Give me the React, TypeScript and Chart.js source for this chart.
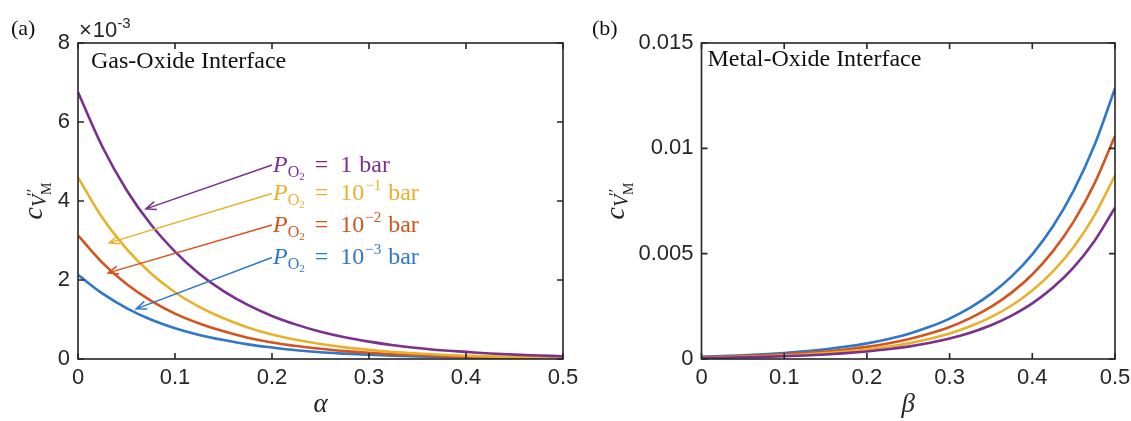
import React, { useEffect, useRef } from 'react';
import { Chart, registerables } from 'chart.js';

Chart.register(...registerables);

// ---------- data ----------
// Panel (a): gas-oxide interface, c values in units of 1e-3
const alphaValues = [0, 0.025, 0.05, 0.075, 0.1, 0.125, 0.15, 0.175, 0.2, 0.225, 0.25, 0.275, 0.3, 0.325, 0.35, 0.375, 0.4, 0.425, 0.45, 0.475, 0.5];
const gasP1 = [6.75, 5.38, 4.28, 3.41, 2.72, 2.16, 1.72, 1.37, 1.09, 0.87, 0.69, 0.55, 0.44, 0.35, 0.28, 0.22, 0.18, 0.14, 0.11, 0.09, 0.07];
const gasP01 = [4.6, 3.58, 2.79, 2.17, 1.69, 1.32, 1.03, 0.8, 0.62, 0.485, 0.38, 0.294, 0.23, 0.178, 0.14, 0.108, 0.084, 0.066, 0.051, 0.04, 0.031];
const gasP001 = [3.13, 2.44, 1.9, 1.48, 1.15, 0.9, 0.7, 0.54, 0.42, 0.33, 0.26, 0.2, 0.16, 0.12, 0.095, 0.074, 0.057, 0.045, 0.035, 0.027, 0.021];
const gasP0001 = [2.13, 1.66, 1.29, 1.0, 0.78, 0.61, 0.48, 0.37, 0.29, 0.22, 0.17, 0.136, 0.106, 0.083, 0.064, 0.05, 0.039, 0.03, 0.024, 0.018, 0.014];

// Panel (b): metal-oxide interface
const betaValues = [0, 0.025, 0.05, 0.075, 0.1, 0.125, 0.15, 0.175, 0.2, 0.225, 0.25, 0.275, 0.3, 0.325, 0.35, 0.375, 0.4, 0.425, 0.45, 0.475, 0.5];
const metalP1 = [0.0000484, 0.0000621, 0.0000798, 0.000102, 0.000132, 0.000169, 0.000217, 0.000278, 0.000357, 0.000459, 0.000589, 0.000757, 0.000972, 0.001248, 0.0016, 0.00206, 0.00264, 0.00339, 0.00435, 0.00559, 0.00718];
const metalP01 = [0.0000632, 0.0000809, 0.000103, 0.000132, 0.000169, 0.000217, 0.000277, 0.000355, 0.000454, 0.00058, 0.000742, 0.00095, 0.00121, 0.001554, 0.00199, 0.00254, 0.00325, 0.00416, 0.00532, 0.00681, 0.00871];
const metalP001 = [0.0000829, 0.000106, 0.000135, 0.000172, 0.000219, 0.000279, 0.000355, 0.000452, 0.000577, 0.000735, 0.000937, 0.001195, 0.00152, 0.00194, 0.00247, 0.00315, 0.00401, 0.00512, 0.00652, 0.00831, 0.01059];
const metalP0001 = [0.000111, 0.000141, 0.000179, 0.000226, 0.000287, 0.000364, 0.000462, 0.000586, 0.000743, 0.000942, 0.00119, 0.001515, 0.00192, 0.00244, 0.00309, 0.00392, 0.00497, 0.0063, 0.00799, 0.01013, 0.01284];

const pressureExponents = ['', '\u22121', '\u22122', '\u22123'];
const xTickValues = [0, 0.1, 0.2, 0.3, 0.4, 0.5];
const yTicksA = [0, 2, 4, 6, 8];
const yTicksB = [0, 0.005, 0.01, 0.015];

// annotation anchors (data coordinates of panel a)
const labelAnchorX = 0.2;
const labelAnchorY = [4.91, 4.19, 3.39, 2.57];
const arrowTips = [
  [0.07, 3.8],
  [0.032, 2.94],
  [0.031, 2.18],
  [0.06, 1.27],
];

// ---------- styles ----------
const seriesColors = ['#7B2F8F', '#E8B12B', '#D4541F', '#2F77C8'];
const SERIF = '"Liberation Serif", "Times New Roman", serif';
const SANS = '"Liberation Sans", Arial, Helvetica, sans-serif';
const AXIS = '#262626';

type Run = { t?: string; font?: string; dy?: number; gap?: number };

function drawRuns(ctx: CanvasRenderingContext2D, x: number, y: number, runs: Run[]) {
  let cx = x;
  for (const r of runs) {
    if (r.gap) cx += r.gap;
    if (r.t) {
      ctx.font = r.font!;
      ctx.fillText(r.t, cx, y + (r.dy || 0));
      cx += ctx.measureText(r.t).width;
    }
  }
  return cx;
}

function drawFrame(chart: any) {
  const { ctx, chartArea } = chart;
  const { left, right, top, bottom } = chartArea;
  const x = chart.scales.x;
  const y = chart.scales.y;
  ctx.save();
  ctx.strokeStyle = AXIS;
  ctx.lineWidth = 1.6;
  ctx.beginPath();
  const tl = 6;
  for (const t of x.ticks) {
    const px = x.getPixelForValue(t.value);
    ctx.moveTo(px, bottom);
    ctx.lineTo(px, bottom - tl);
    ctx.moveTo(px, top);
    ctx.lineTo(px, top + tl);
  }
  for (const t of y.ticks) {
    const py = y.getPixelForValue(t.value);
    ctx.moveTo(left, py);
    ctx.lineTo(left + tl, py);
    ctx.moveTo(right, py);
    ctx.lineTo(right - tl, py);
  }
  ctx.stroke();
  ctx.strokeRect(left, top, right - left, bottom - top);
  ctx.restore();
}

function drawYTitle(ctx: CanvasRenderingContext2D, cx: number, cy: number) {
  ctx.save();
  ctx.translate(cx, cy);
  ctx.rotate(-Math.PI / 2);
  ctx.fillStyle = AXIS;
  ctx.textBaseline = 'alphabetic';
  const cFont = `italic 28px ${SERIF}`;
  const vFont = `italic 20px ${SERIF}`;
  const pFont = `17px ${SERIF}`;
  const mFont = `14px ${SERIF}`;
  const primes = '\u2032\u2032';
  ctx.font = cFont;
  const wc = ctx.measureText('c').width;
  ctx.font = vFont;
  const wv = ctx.measureText('V').width;
  ctx.font = pFont;
  const wp = ctx.measureText(primes).width;
  ctx.font = mFont;
  const wm = ctx.measureText('M').width;
  const total = wc + wv + Math.max(wp, wm);
  let x0 = -total / 2;
  const base = 4;
  ctx.font = cFont;
  ctx.fillText('c', x0, base);
  x0 += wc;
  ctx.font = vFont;
  ctx.fillText('V', x0, base + 4);
  x0 += wv;
  ctx.font = pFont;
  ctx.fillText(primes, x0 - 1, base - 4);
  ctx.font = mFont;
  ctx.fillText('M', x0, base + 9);
  ctx.restore();
}

function drawXTitle(chart: any, symbol: string) {
  const { ctx, chartArea } = chart;
  ctx.save();
  ctx.fillStyle = AXIS;
  ctx.font = `italic 27px ${SERIF}`;
  ctx.textAlign = 'center';
  ctx.textBaseline = 'middle';
  ctx.fillText(symbol, (chartArea.left + chartArea.right) / 2, chartArea.bottom + 46);
  ctx.restore();
}

const panelAPlugin = {
  id: 'panelA',
  afterDraw(chart: any) {
    const { ctx, chartArea } = chart;
    const x = chart.scales.x;
    const y = chart.scales.y;
    drawFrame(chart);
    ctx.save();
    ctx.textBaseline = 'alphabetic';
    ctx.fillStyle = '#111';
    ctx.font = `22px ${SERIF}`;
    ctx.fillText('(a)', 11, 35);
    ctx.fillStyle = AXIS;
    drawRuns(ctx, chartArea.left + 1, chartArea.top - 6, [
      { t: '\u00d7', font: `22px ${SANS}` },
      { t: '10', font: `22px ${SANS}`, gap: 1 },
      { t: '-3', font: `15px ${SANS}`, dy: -9 },
    ]);
    ctx.fillStyle = '#111';
    ctx.font = `24px ${SERIF}`;
    ctx.fillText('Gas-Oxide Interface', chartArea.left + 13, chartArea.top + 25);
    for (let i = 0; i < 4; i++) {
      const tx = x.getPixelForValue(labelAnchorX);
      const ty = y.getPixelForValue(labelAnchorY[i]);
      const hx = x.getPixelForValue(arrowTips[i][0]);
      const hy = y.getPixelForValue(arrowTips[i][1]);
      ctx.strokeStyle = seriesColors[i];
      ctx.fillStyle = seriesColors[i];
      ctx.lineWidth = 1.5;
      ctx.beginPath();
      ctx.moveTo(tx, ty);
      ctx.lineTo(hx, hy);
      const ang = Math.atan2(ty - hy, tx - hx);
      const hl = 11;
      const spread = 0.38;
      ctx.moveTo(hx + hl * Math.cos(ang + spread), hy + hl * Math.sin(ang + spread));
      ctx.lineTo(hx, hy);
      ctx.lineTo(hx + hl * Math.cos(ang - spread), hy + hl * Math.sin(ang - spread));
      ctx.stroke();
      const runs: Run[] = [
        { t: 'P', font: `italic 24px ${SERIF}` },
        { t: 'O', font: `16px ${SERIF}`, dy: 5 },
        { t: '2', font: `11px ${SERIF}`, dy: 8 },
        { t: '=', font: `24px ${SERIF}`, gap: 10 },
      ];
      if (pressureExponents[i] === '') {
        runs.push({ t: '1', font: `24px ${SERIF}`, gap: 12 });
      } else {
        runs.push({ t: '10', font: `24px ${SERIF}`, gap: 12 });
        runs.push({ t: pressureExponents[i], font: `15px ${SERIF}`, dy: -10, gap: 1 });
      }
      runs.push({ t: 'bar', font: `24px ${SERIF}`, gap: 7 });
      drawRuns(ctx, tx + 1, ty + 7, runs);
    }
    ctx.restore();
    drawYTitle(ctx, chartArea.left - 40, (chartArea.top + chartArea.bottom) / 2);
    drawXTitle(chart, '\u03b1');
  },
};

const panelBPlugin = {
  id: 'panelB',
  afterDraw(chart: any) {
    const { ctx, chartArea } = chart;
    drawFrame(chart);
    ctx.save();
    ctx.textBaseline = 'alphabetic';
    ctx.fillStyle = '#111';
    ctx.font = `22px ${SERIF}`;
    ctx.fillText('(b)', 32, 35);
    ctx.font = `24px ${SERIF}`;
    ctx.fillText('Metal-Oxide Interface', chartArea.left + 6, chartArea.top + 23);
    ctx.restore();
    drawYTitle(ctx, chartArea.left - 82, (chartArea.top + chartArea.bottom) / 2);
    drawXTitle(chart, '\u03b2');
  },
};

function makeDatasets(xs: number[], series: number[][]) {
  return series.map((vals, i) => ({
    data: xs.map((xv, j) => ({ x: xv, y: vals[j] })),
    borderColor: seriesColors[i],
    backgroundColor: seriesColors[i],
    borderWidth: 2.6,
    pointRadius: 0,
    fill: false,
    cubicInterpolationMode: 'monotone' as const,
  }));
}

function makeConfig(
  xs: number[],
  series: number[][],
  yMax: number,
  yTicks: number[],
  yWidth: number,
  padRight: number,
  plugin: any,
  yFmt: (v: number) => string
): any {
  return {
    type: 'line',
    data: { datasets: makeDatasets(xs, series) },
    options: {
      animation: false,
      responsive: false,
      devicePixelRatio: 1,
      layout: { padding: { top: 43, right: padRight, left: 0, bottom: 0 } },
      plugins: { legend: { display: false }, tooltip: { enabled: false } },
      scales: {
        x: {
          type: 'linear',
          min: 0,
          max: 0.5,
          afterBuildTicks: (s: any) => {
            s.ticks = xTickValues.map((v) => ({ value: v }));
          },
          afterFit: (s: any) => {
            s.height = 62;
            s.paddingLeft = 0;
            s.paddingRight = 0;
          },
          grid: { display: false, drawTicks: false },
          border: { display: false },
          ticks: {
            padding: 6,
            maxRotation: 0,
            color: AXIS,
            font: { family: SANS, size: 22 },
            callback: (v: number) => String(Number(Number(v).toFixed(2))),
          },
        },
        y: {
          type: 'linear',
          min: 0,
          max: yMax,
          afterBuildTicks: (s: any) => {
            s.ticks = yTicks.map((v) => ({ value: v }));
          },
          afterFit: (s: any) => {
            s.width = yWidth;
            s.paddingTop = 0;
            s.paddingBottom = 0;
          },
          grid: { display: false, drawTicks: false },
          border: { display: false },
          ticks: {
            padding: 8,
            color: AXIS,
            font: { family: SANS, size: 22 },
            callback: (v: number) => yFmt(Number(v)),
          },
        },
      },
    },
    plugins: [plugin],
  };
}

function Panel({ left, width, config }: { left: number; width: number; config: () => any }) {
  const ref = useRef<HTMLCanvasElement | null>(null);
  useEffect(() => {
    const chart = new Chart(ref.current as HTMLCanvasElement, config());
    return () => chart.destroy();
  }, []);
  return (
    <canvas
      ref={ref}
      width={width}
      height={421}
      style={{ position: 'absolute', left, top: 0, width, height: 421 }}
    />
  );
}

export default function App() {
  const configA = () =>
    makeConfig(
      alphaValues,
      [gasP1, gasP01, gasP001, gasP0001],
      8,
      yTicksA,
      78,
      37,
      panelAPlugin,
      (v) => String(Number(v.toFixed(1)))
    );
  const configB = () =>
    makeConfig(
      betaValues,
      [metalP1, metalP01, metalP001, metalP0001],
      0.015,
      yTicksB,
      141.5,
      16,
      panelBPlugin,
      (v) => String(Number(v.toFixed(3)))
    );
  return (
    <div
      style={{
        position: 'fixed',
        left: 0,
        top: 0,
        width: 1131,
        height: 421,
        background: '#fff',
        overflow: 'hidden',
      }}
    >
      <Panel left={0} width={600} config={configA} />
      <Panel left={560} width={571} config={configB} />
    </div>
  );
}
